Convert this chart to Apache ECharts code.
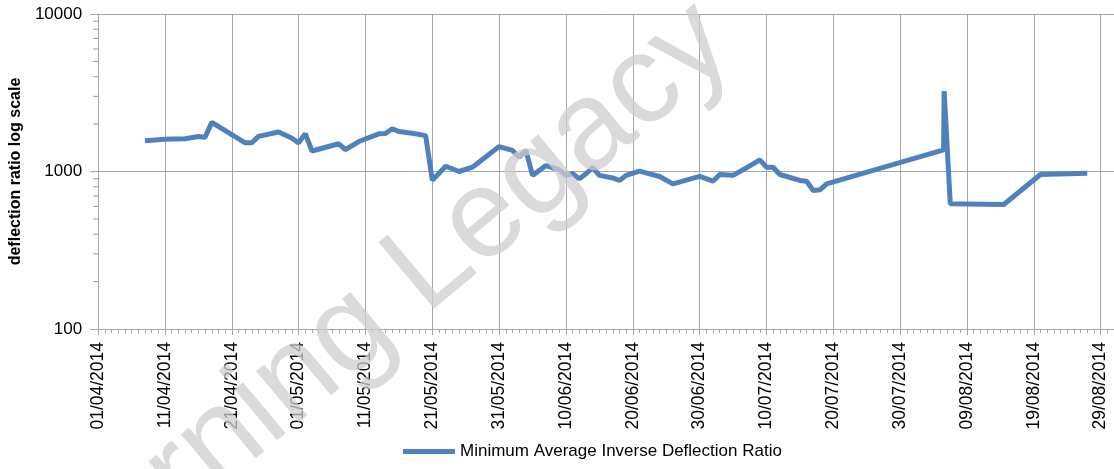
<!DOCTYPE html>
<html>
<head>
<meta charset="utf-8">
<script src="https://cdn.jsdelivr.net/npm/echarts@6/dist/echarts.min.js"></script>
<style>
  html,body{margin:0;padding:0;background:#fff;}
  #chart{width:1114px;height:469px;}
</style>
</head>
<body>
<div id="chart"></div>
<script>
// readings
const dates = [
  '2014-04-08','2014-04-11','2014-04-14','2014-04-16','2014-04-17','2014-04-18',
  '2014-04-23','2014-04-24','2014-04-25','2014-04-28','2014-04-30','2014-05-01',
  '2014-05-02','2014-05-03','2014-05-07','2014-05-08','2014-05-10','2014-05-13',
  '2014-05-14','2014-05-15','2014-05-16','2014-05-18','2014-05-20','2014-05-21',
  '2014-05-23','2014-05-25','2014-05-27','2014-05-31','2014-06-02','2014-06-03',
  '2014-06-04','2014-06-05','2014-06-07','2014-06-09','2014-06-10','2014-06-11',
  '2014-06-12','2014-06-13','2014-06-14','2014-06-15','2014-06-17','2014-06-18',
  '2014-06-19','2014-06-21','2014-06-24','2014-06-26','2014-06-30','2014-07-02',
  '2014-07-03','2014-07-05','2014-07-07','2014-07-09','2014-07-10','2014-07-11',
  '2014-07-12','2014-07-15','2014-07-16','2014-07-17','2014-07-18','2014-07-19',
  '2014-08-05T12:00','2014-08-05T14:00','2014-08-06T12:00','2014-08-14T12:00',
  '2014-08-20','2014-08-27'
]
const ratios = [
  1570,1600,1615,1670,1650,2050,
  1520,1525,1670,1780,1625,1520,
  1735,1350,1500,1375,1550,1735,
  1745,1870,1795,1750,1690,880,
  1080,1000,1065,1440,1360,1230,
  1360,945,1090,1025,945,967,
  900,967,1060,945,910,877,
  945,1005,930,835,930,868,
  957,945,1055,1186,1065,1065,
  957,877,868,757,765,835,
  1370,3240,623,617,
  957,976
]
const yTicks = [100, 1000, 10000]
const yMinor = [200,300,400,500,600,700,800,900,2000,3000,4000,5000,6000,7000,8000,9000]

const startDate = '2014-04-01'
const DAY = 86400000

function toUtc(s){
  return Date.parse(s.length === 10 ? s + 'T00:00:00Z' : s + ':00Z')
}
function dayOffset(s){
  return (toUtc(s) - toUtc(startDate)) / DAY
}
function dayLabel(d){
  const t = new Date(toUtc(startDate) + d * DAY)
  const p = n => String(n).padStart(2,'0')
  return p(t.getUTCDate()) + '/' + p(t.getUTCMonth()+1) + '/' + t.getUTCFullYear()
}

const seriesData = dates.map((d,i) => [dayOffset(d), ratios[i]])
const gridColor = '#a6a6a6'

let chart = echarts.init(document.getElementById('chart'))
let option = {
  animation:false,
  backgroundColor:'#fff',
  grid:{left:96, right:0, top:14, bottom:140},
  legend:{
    data:['Minimum Average Inverse Deflection Ratio'],
    left:398, bottom:4,
    icon:'rect', itemWidth:52, itemHeight:5, itemGap:6,
    textStyle:{fontFamily:'Liberation Sans', fontSize:17, color:'#000'}
  },
  xAxis:{
    type:'value',
    min:0, max:152, interval:10,
    axisLine:{lineStyle:{color:gridColor}},
    axisTick:{length:6, lineStyle:{color:gridColor}},
    minorTick:{show:true, splitNumber:10, length:4, lineStyle:{color:gridColor}},
    splitLine:{show:true, lineStyle:{color:gridColor}},
    axisLabel:{
      rotate:90, margin:13, showMaxLabel:false,
      fontFamily:'Liberation Sans', fontSize:17.5, color:'#000',
      formatter:v => v % 10 === 0 ? dayLabel(v) : ''
    }
  },
  yAxis:{
    type:'log', logBase:10, min:yTicks[0], max:yTicks[yTicks.length-1],
    name:'deflection ratio log scale',
    nameLocation:'middle', nameGap:72, nameRotate:90,
    nameTextStyle:{fontFamily:'Liberation Sans', fontWeight:'bold', fontSize:16, color:'#000'},
    axisLine:{show:true, lineStyle:{color:gridColor}},
    axisTick:{show:true, length:8, lineStyle:{color:gridColor}},
    splitLine:{show:true, lineStyle:{color:gridColor}},
    axisLabel:{margin:16, fontFamily:'Liberation Sans', fontSize:17, color:'#000',
      formatter:v => String(Math.round(v))}
  },
  series:[{
    name:'Minimum Average Inverse Deflection Ratio',
    type:'line',
    data:seriesData,
    symbol:'none',
    lineStyle:{width:5, color:'#4f81bd'},
    itemStyle:{color:'#4f81bd'},
    z:3
  },{
    // log-spaced minor ticks on the y axis
    type:'custom',
    silent:true,
    clip:false,
    z:5,
    data:yMinor.map(v => [0, v]),
    renderItem:(params, api) => {
      const p = api.coord([api.value(0), api.value(1)])
      return {
        type:'line',
        shape:{x1:p[0]-5, y1:p[1], x2:p[0], y2:p[1]},
        style:{stroke:'#999', lineWidth:1}
      }
    }
  }],
  graphic:[{
    type:'text',
    x:-39, y:578,
    rotation:40 * Math.PI / 180,
    z:100,
    silent:true,
    style:{
      text:'Learning Legacy',
      x:0, y:0,
      font:'126px "Liberation Sans"',
      fill:'rgba(205,205,205,0.75)'
    }
  }]
}
chart.setOption(option)
</script>
</body>
</html>
